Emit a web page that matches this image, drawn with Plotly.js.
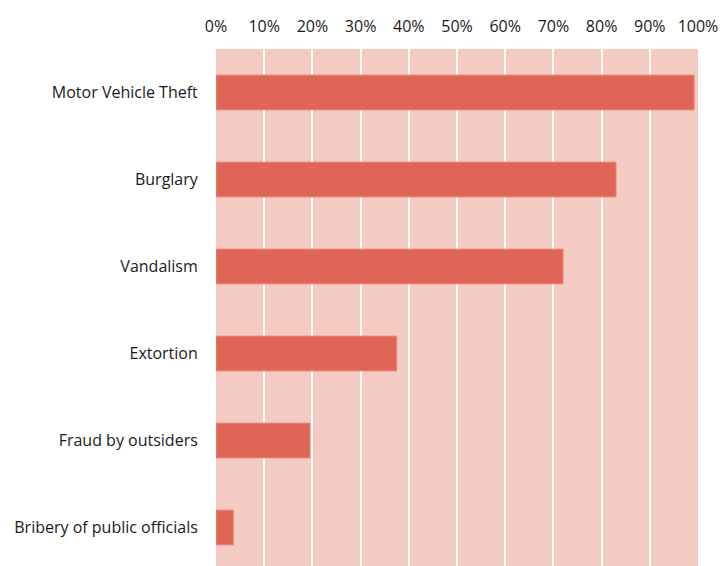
<!DOCTYPE html>
<html><head><meta charset="utf-8">
<script src="https://cdn.plot.ly/plotly-3.0.1.min.js"></script>
<style>html,body{margin:0;padding:0;overflow:hidden;background:#fff}</style>
</head><body><div id="chart"></div>
<script>
const categories = ["Motor Vehicle Theft","Burglary","Vandalism","Extortion","Fraud by outsiders","Bribery of public officials"];
const values = [99.2, 83, 72, 37.5, 19.5, 3.6];
const tickValues = [0,10,20,30,40,50,60,70,80,90,100];
const tickLabels = tickValues.map(v => v + "%");

const trace = {
  type: "bar", orientation: "h",
  x: values, y: categories,
  marker: {color: "#DF6556", line: {color: "#EA8A7E", width: 1}},
  hoverinfo: "x+y"
};
const layout = {
  width: 721, height: 571,
  margin: {l: 216, r: 23, t: 49, b: 0, pad: 0},
  paper_bgcolor: "#ffffff", plot_bgcolor: "#F4CBC2",
  bargap: 0.6, showlegend: false,
  font: {family: "Open Sans, Liberation Sans, sans-serif", size: 16, color: "#1a1a1a"},
  xaxis: {side: "top", range: [0, 100], tickvals: tickValues, ticktext: tickLabels,
    showgrid: true, gridcolor: "#ffffff", gridwidth: 2, zeroline: false,
    ticks: "outside", ticklen: 10, tickcolor: "rgba(0,0,0,0)", showline: false,
    tickfont: {size: 16}},
  yaxis: {autorange: "reversed", ticks: "outside", ticklen: 14, tickcolor: "rgba(0,0,0,0)",
    showgrid: false, zeroline: false, showline: false, tickfont: {size: 16}}
};
Plotly.newPlot("chart", [trace], layout, {displayModeBar: false, staticPlot: true});
</script></body></html>
